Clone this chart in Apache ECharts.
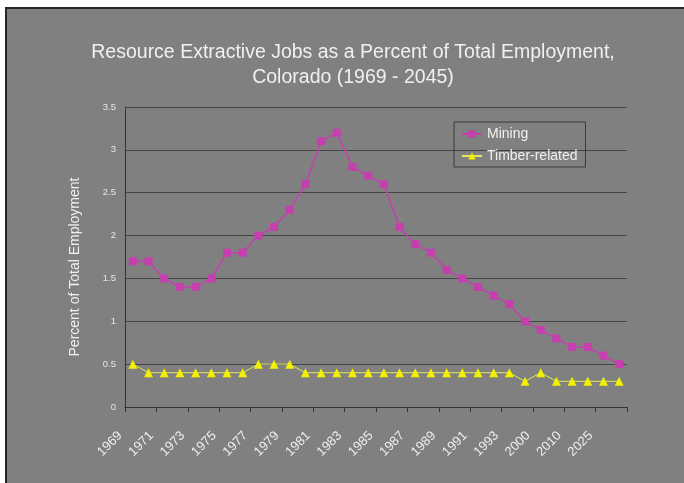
<!DOCTYPE html>
<html>
<head>
<meta charset="utf-8">
<script src="https://cdn.jsdelivr.net/npm/echarts@6/dist/echarts.min.js"></script>
<style>
html,body{margin:0;padding:0;background:#fff;}
#chart{width:684px;height:483px;}
</style>
</head>
<body>
<div id="chart"></div>
<script>
const years = ['1969','1970','1971','1972','1973','1974','1975','1976','1977','1978','1979','1980','1981','1982','1983','1984','1985','1986','1987','1988','1989','1990','1991','1992','1993','1994','2000','2005','2010','2015','2025','2045'];
const mining = [1.7,1.7,1.5,1.4,1.4,1.5,1.8,1.8,2.0,2.1,2.3,2.6,3.1,3.2,2.8,2.7,2.6,2.1,1.9,1.8,1.6,1.5,1.4,1.3,1.2,1.0,0.9,0.8,0.7,0.7,0.6,0.5];
const timber = [0.5,0.4,0.4,0.4,0.4,0.4,0.4,0.4,0.5,0.5,0.5,0.4,0.4,0.4,0.4,0.4,0.4,0.4,0.4,0.4,0.4,0.4,0.4,0.4,0.4,0.3,0.4,0.3,0.3,0.3,0.3,0.3];
const yTicks = [0,0.5,1,1.5,2,2.5,3,3.5];
const titleText = 'Resource Extractive Jobs as a Percent of Total Employment,\nColorado (1969 - 2045)';
const yName = 'Percent of Total Employment';

const FONT = '"Liberation Sans", Arial, sans-serif';
const chart = echarts.init(document.getElementById('chart'), null, {renderer:'canvas'});
chart.setOption({
  backgroundColor: '#808080',
  animation: false,
  textStyle: {fontFamily: FONT},
  title: {
    text: titleText,
    left: 348, top: 35, textAlign: 'center',
    textStyle: {color: '#f0f0f0', fontSize: 19.5, fontWeight: 'normal', lineHeight: 25, fontFamily: FONT}
  },
  legend: {
    orient: 'vertical',
    left: 454, top: 122,
    padding: [5, 8, 4, 7],
    itemGap: 8,
    itemWidth: 20, itemHeight: 9,
    borderColor: '#3a3a3a', borderWidth: 1,
    textStyle: {color: '#f0f0f0', fontSize: 14, fontFamily: FONT},
    data: [{name: 'Mining'}, {name: 'Timber-related'}]
  },
  grid: {left: 125, right: 57, top: 107, bottom: 76},
  xAxis: {
    type: 'category',
    data: years,
    boundaryGap: true,
    axisLine: {lineStyle: {color: '#333', width: 1}},
    axisTick: {show: true, alignWithLabel: false, length: 5, lineStyle: {color: '#333'}},
    axisLabel: {interval: 1, rotate: 45, margin: 14, padding: [0, 18, 0, 0], color: '#eeeeee', fontSize: 13, fontFamily: FONT}
  },
  yAxis: {
    type: 'value',
    min: 0, max: 3.5, interval: 0.5,
    axisLine: {show: true, lineStyle: {color: '#333', width: 1}},
    axisTick: {show: false},
    axisLabel: {color: '#e6e6e6', fontSize: 9.5, margin: 9, fontFamily: FONT,
      formatter: v => String(yTicks.find(t => Math.abs(t - v) < 1e-9) ?? v)},
    splitLine: {lineStyle: {color: '#454545', width: 1}}
  },
  series: [
    {
      name: 'Mining', type: 'line', data: mining,
      symbol: 'rect', symbolSize: 8,
      lineStyle: {color: '#c63fae', width: 1.5},
      itemStyle: {color: '#c63fae'}
    },
    {
      name: 'Timber-related', type: 'line', data: timber,
      symbol: 'triangle', symbolSize: 9,
      lineStyle: {color: '#e6e65a', width: 1},
      itemStyle: {color: '#f2f200'}
    }
  ],
  graphic: [
    {type: 'rect', shape: {x: 0, y: 0, width: 684, height: 7}, style: {fill: '#ffffff'}, silent: true},
    {type: 'rect', shape: {x: 0, y: 0, width: 5, height: 483}, style: {fill: '#ffffff'}, silent: true},
    {type: 'rect', shape: {x: 5, y: 7, width: 679, height: 2}, style: {fill: '#262626'}, silent: true},
    {type: 'rect', shape: {x: 5, y: 7, width: 2, height: 476}, style: {fill: '#262626'}, silent: true},
    {type: 'text', x: 75, y: 267, rotation: Math.PI / 2,
      style: {text: yName, fill: '#f0f0f0', font: '14px ' + FONT, textAlign: 'center', textVerticalAlign: 'middle'}, silent: true}
  ]
});
</script>
</body>
</html>
